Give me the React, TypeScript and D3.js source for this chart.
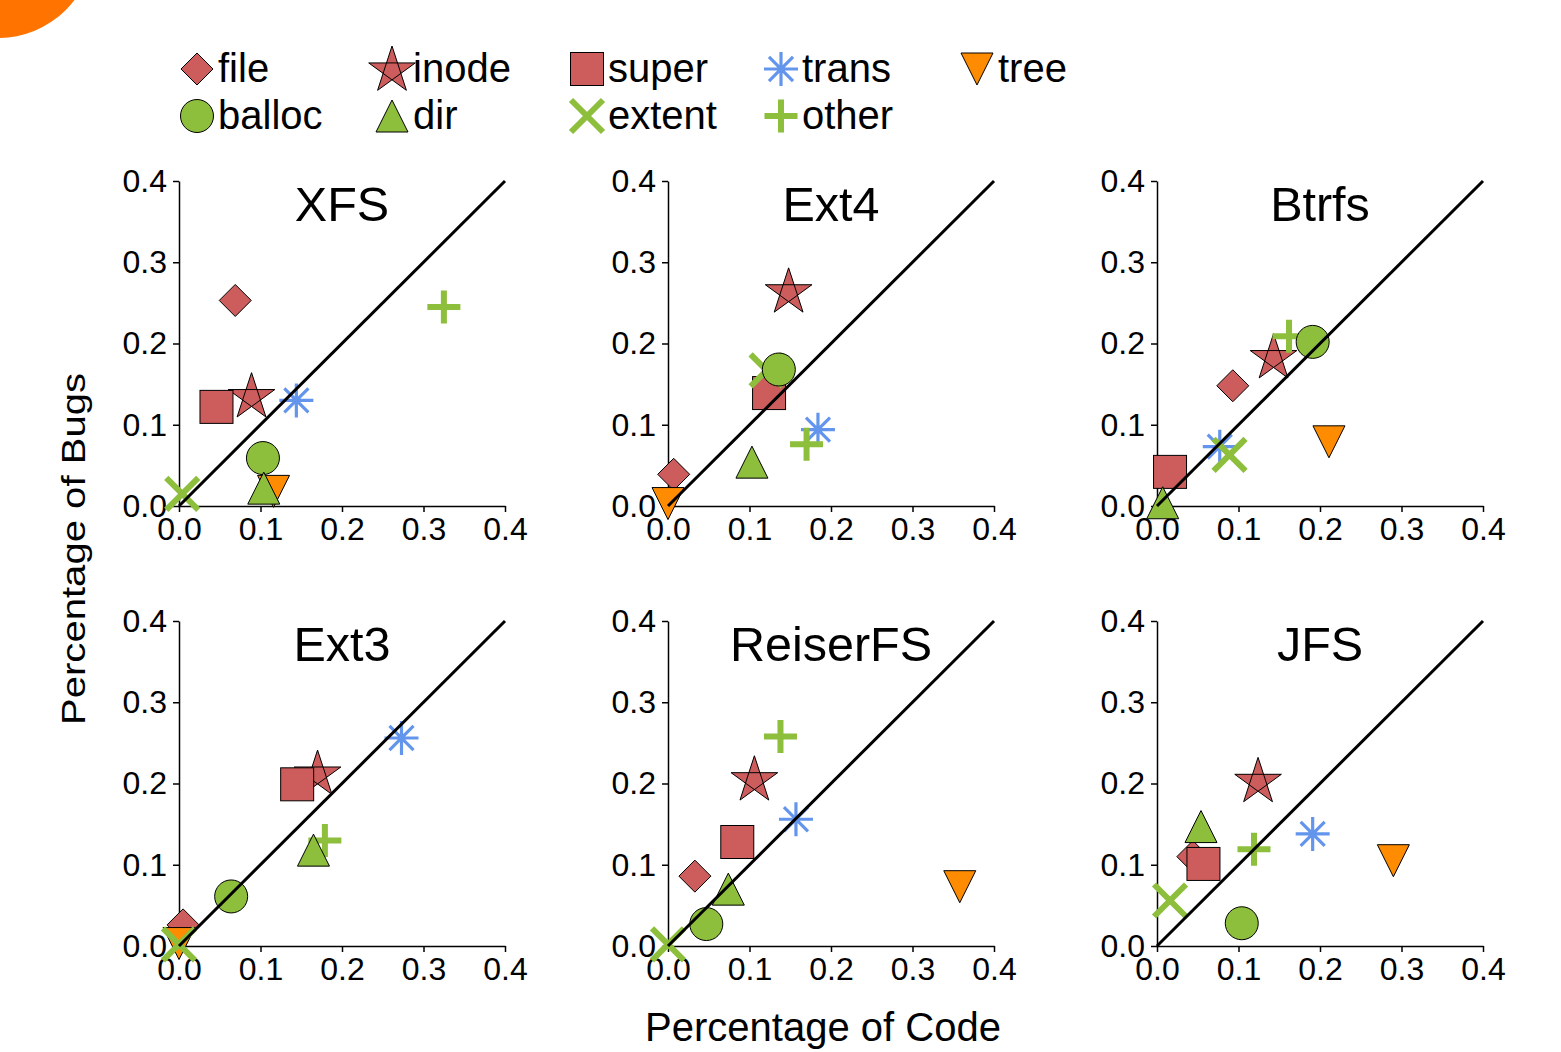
import React, { useEffect, useRef } from 'react';
import * as d3 from 'd3';

const W = 1561;
const H = 1052;

const categories = ['file', 'inode', 'super', 'trans', 'tree', 'balloc', 'dir', 'extent', 'other'];
const panelNames = ['XFS', 'Ext4', 'Btrfs', 'Ext3', 'ReiserFS', 'JFS'];

// percentage of code / percentage of bugs, in category order
const xfsCode = [0.069, 0.089, 0.046, 0.144, 0.116, 0.103, 0.104, 0.004, 0.325];
const xfsBugs = [0.253, 0.134, 0.122, 0.130, 0.018, 0.059, 0.022, 0.015, 0.245];
const ext4Code = [0.007, 0.148, 0.124, 0.184, 0.0, 0.136, 0.103, 0.121, 0.170];
const ext4Bugs = [0.039, 0.263, 0.139, 0.094, 0.003, 0.168, 0.054, 0.167, 0.076];
const btrfsCode = [0.093, 0.143, 0.016, 0.077, 0.211, 0.191, 0.007, 0.089, 0.162];
const btrfsBugs = [0.148, 0.182, 0.042, 0.073, 0.079, 0.202, 0.004, 0.063, 0.209];
const ext3Code = [0.005, 0.170, 0.145, 0.273, 0.0, 0.064, 0.165, 0.0, 0.179];
const ext3Bugs = [0.026, 0.211, 0.199, 0.256, 0.003, 0.061, 0.118, 0.002, 0.130];
const reiserCode = [0.033, 0.106, 0.085, 0.157, 0.358, 0.047, 0.074, 0.0, 0.138];
const reiserBugs = [0.086, 0.204, 0.128, 0.156, 0.073, 0.027, 0.070, 0.002, 0.258];
const jfsCode = [0.044, 0.124, 0.057, 0.191, 0.290, 0.104, 0.054, 0.016, 0.119];
const jfsBugs = [0.110, 0.202, 0.101, 0.138, 0.105, 0.028, 0.147, 0.056, 0.119];

const panelCode = [xfsCode, ext4Code, btrfsCode, ext3Code, reiserCode, jfsCode];
const panelBugs = [xfsBugs, ext4Bugs, btrfsBugs, ext3Bugs, reiserBugs, jfsBugs];

const tickValues = [0, 0.1, 0.2, 0.3, 0.4];
const drawOrder = ['file', 'inode', 'super', 'trans', 'tree', 'extent', 'other', 'balloc', 'dir'];

// legend: column-major, two rows
const legendItems = ['file', 'balloc', 'inode', 'dir', 'super', 'extent', 'trans', 'other', 'tree'];

const RED = '#cd5c5c';
const GREEN = '#8dbe3c';
const BLUE = '#6495ed';
const ORANGE = '#ff8c00';
const FONT = '"Liberation Sans", Arial, Helvetica, sans-serif';

function drawMarker(g: any, cat: string, cx: number, cy: number) {
  const p = d3.path();
  if (cat === 'file') {
    const s = 16;
    p.moveTo(cx, cy - s); p.lineTo(cx + s, cy); p.lineTo(cx, cy + s); p.lineTo(cx - s, cy); p.closePath();
    g.append('path').attr('d', p.toString()).attr('fill', RED).attr('stroke', '#000').attr('stroke-width', 1);
  } else if (cat === 'inode') {
    const R = 24.5;
    for (let k = 0; k < 6; k++) {
      const a = -Math.PI / 2 + (k * 2 * (2 * Math.PI)) / 5;
      const px = cx + R * Math.cos(a);
      const py = cy + R * Math.sin(a);
      if (k === 0) p.moveTo(px, py); else p.lineTo(px, py);
    }
    p.closePath();
    g.append('path').attr('d', p.toString()).attr('fill', RED).attr('stroke', '#000').attr('stroke-width', 1);
  } else if (cat === 'super') {
    const s = 16.5;
    g.append('rect').attr('x', cx - s).attr('y', cy - s).attr('width', 2 * s).attr('height', 2 * s)
      .attr('fill', RED).attr('stroke', '#000').attr('stroke-width', 1);
  } else if (cat === 'trans') {
    const s = 17;
    const d = s * Math.SQRT1_2;
    p.moveTo(cx - s, cy); p.lineTo(cx + s, cy);
    p.moveTo(cx, cy - s); p.lineTo(cx, cy + s);
    p.moveTo(cx - d, cy - d); p.lineTo(cx + d, cy + d);
    p.moveTo(cx - d, cy + d); p.lineTo(cx + d, cy - d);
    g.append('path').attr('d', p.toString()).attr('fill', 'none').attr('stroke', BLUE).attr('stroke-width', 3.2);
  } else if (cat === 'tree') {
    const s = 16;
    p.moveTo(cx - s, cy - s); p.lineTo(cx + s, cy - s); p.lineTo(cx, cy + s); p.closePath();
    g.append('path').attr('d', p.toString()).attr('fill', ORANGE).attr('stroke', '#000').attr('stroke-width', 1);
  } else if (cat === 'balloc') {
    g.append('circle').attr('cx', cx).attr('cy', cy).attr('r', 16.5)
      .attr('fill', GREEN).attr('stroke', '#000').attr('stroke-width', 1);
  } else if (cat === 'dir') {
    const s = 16;
    p.moveTo(cx, cy - s); p.lineTo(cx + s, cy + s); p.lineTo(cx - s, cy + s); p.closePath();
    g.append('path').attr('d', p.toString()).attr('fill', GREEN).attr('stroke', '#000').attr('stroke-width', 1);
  } else if (cat === 'extent') {
    const s = 16;
    p.moveTo(cx - s, cy - s); p.lineTo(cx + s, cy + s);
    p.moveTo(cx - s, cy + s); p.lineTo(cx + s, cy - s);
    g.append('path').attr('d', p.toString()).attr('fill', 'none').attr('stroke', GREEN).attr('stroke-width', 6);
  } else if (cat === 'other') {
    const s = 16.5;
    p.moveTo(cx - s, cy); p.lineTo(cx + s, cy);
    p.moveTo(cx, cy - s); p.lineTo(cx, cy + s);
    g.append('path').attr('d', p.toString()).attr('fill', 'none').attr('stroke', GREEN).attr('stroke-width', 6);
  }
}

export default function App() {
  const svgRef = useRef<SVGSVGElement>(null);

  useEffect(() => {
    document.body.style.margin = '0';
    document.body.style.overflow = 'hidden';

    const svg = d3.select(svgRef.current);
    svg.selectAll('*').remove();

    svg.append('rect').attr('width', W).attr('height', H).attr('fill', '#fff');

    // orange blob in the corner
    svg.append('circle').attr('cx', -2).attr('cy', -58).attr('r', 96).attr('fill', '#ff7300');

    // legend
    const legendX = [197, 392, 587, 781, 977];
    const legendY = [69, 116];
    const lg = svg.append('g');
    legendItems.forEach((cat, i) => {
      const col = Math.floor(i / 2);
      const row = i % 2;
      const mx = legendX[col];
      const my = legendY[row] + (cat === 'inode' ? 1.5 : 0);
      drawMarker(lg, cat, mx, my);
      lg.append('text')
        .attr('x', mx + 21)
        .attr('y', legendY[row] + 13)
        .attr('font-family', FONT)
        .attr('font-size', 40)
        .attr('fill', '#000')
        .text(cat);
    });

    const colX = [179, 668, 1157];
    const rowY = [506, 946];
    const pw = 326;
    const ph = 325;

    panelNames.forEach((name, i) => {
      const x0 = colX[i % 3];
      const y0 = rowY[Math.floor(i / 3)];
      const x = d3.scaleLinear().domain([0, 0.4]).range([x0, x0 + pw]);
      const y = d3.scaleLinear().domain([0, 0.4]).range([y0, y0 - ph]);

      const g = svg.append('g');

      const yAxis = d3.axisLeft(y).tickValues(tickValues).tickFormat(d3.format('.1f'))
        .tickSize(6).tickSizeOuter(0).tickPadding(6);
      const xAxis = d3.axisBottom(x).tickValues(tickValues).tickFormat(d3.format('.1f'))
        .tickSize(6).tickSizeOuter(0).tickPadding(5);

      const ya = g.append('g').attr('transform', `translate(${x0},0)`).call(yAxis);
      const xa = g.append('g').attr('transform', `translate(0,${y0})`).call(xAxis);
      [ya, xa].forEach((a) => {
        a.attr('font-family', FONT).attr('font-size', 32);
        a.select('.domain').attr('stroke', '#000').attr('stroke-width', 1.5);
        a.selectAll('.tick line').attr('stroke', '#000').attr('stroke-width', 1.5);
        a.selectAll('.tick text').attr('fill', '#000');
      });

      g.append('text')
        .attr('x', x0 + pw / 2)
        .attr('y', y0 - ph + 40)
        .attr('text-anchor', 'middle')
        .attr('font-family', FONT)
        .attr('font-size', 48.5)
        .attr('fill', '#000')
        .text(name);

      const code = panelCode[i];
      const bugs = panelBugs[i];
      drawOrder.forEach((cat) => {
        const k = categories.indexOf(cat);
        drawMarker(g, cat, x(code[k]), y(bugs[k]));
      });

      const line = d3.line<number>().x((d) => x(d)).y((d) => y(d));
      g.append('path')
        .datum(x.domain())
        .attr('d', line)
        .attr('fill', 'none')
        .attr('stroke', '#000')
        .attr('stroke-width', 3);
    });

    svg.append('text')
      .attr('transform', 'translate(85,549) rotate(-90)')
      .attr('text-anchor', 'middle')
      .attr('font-family', FONT)
      .attr('font-size', 34)
      .attr('textLength', 352)
      .attr('lengthAdjust', 'spacingAndGlyphs')
      .attr('fill', '#000')
      .text('Percentage of Bugs');

    svg.append('text')
      .attr('x', 823)
      .attr('y', 1041)
      .attr('text-anchor', 'middle')
      .attr('font-family', FONT)
      .attr('font-size', 40)
      .attr('fill', '#000')
      .text('Percentage of Code');
  }, []);

  return (
    <svg
      ref={svgRef}
      width={W}
      height={H}
      style={{ position: 'absolute', left: 0, top: 0, display: 'block' }}
    />
  );
}
